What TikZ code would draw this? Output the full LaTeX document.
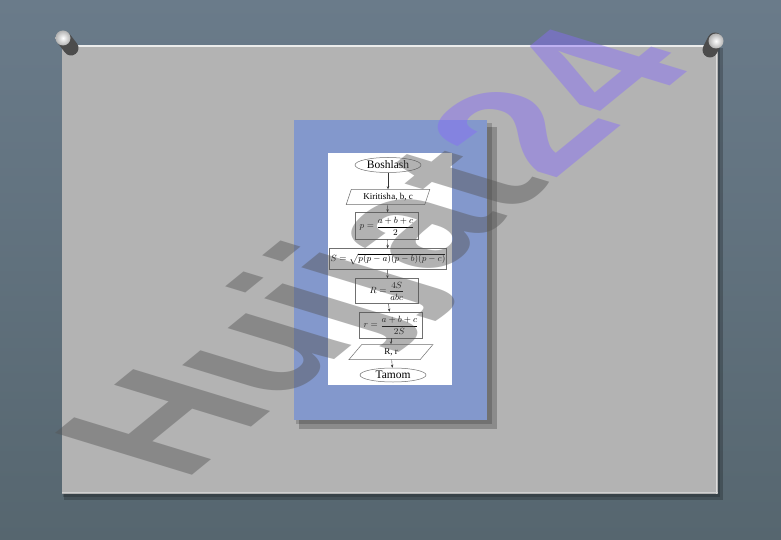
\documentclass[tikz,border=0pt]{standalone}
\usepackage{amsmath}
\usepackage{fontspec}
\setmainfont{Liberation Serif}
\newfontfamily\wmfont{Liberation Sans}
\usetikzlibrary{arrows.meta,shapes.geometric}
\definecolor{bgtop}{HTML}{6A7B8A}
\definecolor{bgbot}{HTML}{56666F}
\definecolor{panelc}{HTML}{B3B3B3}
\definecolor{bluec}{HTML}{8398CC}
\definecolor{linec}{HTML}{707070}
\definecolor{wmgray}{HTML}{555555}
\definecolor{wmpurple}{HTML}{866BFA}
\tikzset{
  fc/.style={draw=linec, line width=0.5pt, fill=white, font=\fontsize{9}{10}\selectfont, inner sep=1pt},
  term/.style={fc, ellipse, minimum width=#1, minimum height=15pt, font=\fontsize{11.5}{12}\selectfont},
  io/.style={fc, trapezium, trapezium left angle=70, trapezium right angle=110, minimum width=#1, minimum height=15pt, trapezium stretches=true},
  proc/.style={fc, rectangle, minimum width=#1, minimum height=24pt},
  arr/.style={draw=black!80, line width=0.4pt, -{Stealth[length=3pt,width=2.4pt]}},
  pinbody/.style={line width=15pt, line cap=round, draw=black!70},
}
\begin{document}
\begin{tikzpicture}[x=1pt,y=-1pt]
\useasboundingbox (0,0) rectangle (781,540);
\shade[top color=bgtop, bottom color=bgbot] (0,0) rectangle (781,540);
% panel with shadow
\fill[black,opacity=0.22] (64,48) rectangle (723,500);
\fill[black,opacity=0.18] (63,47) rectangle (720,497);
\fill[panelc] (62,45) rectangle (718,494);
\draw[white!75!panelc, line width=1.5pt] (62,46) -- (718,46);
\draw[white!55!panelc, line width=1pt] (716,45) -- (716,494);
\draw[white!40!panelc, line width=0.8pt] (62,492) -- (718,492);
% picture with shadow
\fill[black,opacity=0.22] (299,127) rectangle (497,429);
\fill[black,opacity=0.18] (296,123) rectangle (492,424);
\fill[bluec] (294,120) rectangle (487,420);
\fill[white] (328,153) rectangle (452,385);
% flowchart
\node[term=66pt] (start) at (388,165) {Boshlash};
\node[io=84pt] (inp) at (388,197) {Kiritish\hspace{0.5pt}a, b, c};
\node[proc=63pt, minimum height=27pt] (p) at (387,226) {$p=\dfrac{a+b+c}{2}$};
\node[proc=117pt, minimum height=21pt] (s) at (388,259) {$S=\sqrt{p(p-a)(p-b)(p-c)}$};
\node[proc=63pt, minimum height=25pt] (R) at (387,291) {$R=\dfrac{4S}{abc}$};
\node[proc=63pt, minimum height=26pt] (r) at (391,325) {$r=\dfrac{a+b+c}{2S}$};
\node[io=84pt] (out) at (391,352) {R, r};
\node[term=66pt, minimum height=14pt] (end) at (393,375) {Tamom};
\draw[arr] (start) -- (inp);
\draw[arr] (inp) -- (p);
\draw[arr] (p) -- (s);
\draw[arr] (s) -- (R);
\draw[arr] (R) -- (r);
\draw[arr] (r) -- (out);
\draw[arr] (out) -- (end);
% watermark
\begin{scope}[cm={1.33,1.085,-1.99,0.608,(183,483)}]
\node[transform shape, anchor=base west, inner sep=0pt, text opacity=0.45,
  font=\wmfont\bfseries\fontsize{100}{100}\selectfont] (wm) at (0,0)
  {\color{wmgray}Hujjat\color{wmpurple}24};
\end{scope}
% pins
\draw[pinbody] (64,39) -- (71,48);
\shade[inner color=white, outer color=black!30] (63,38) circle (7.5pt);
\draw[pinbody] (715,40) -- (710,50);
\shade[inner color=white, outer color=black!30] (716,41) circle (7.5pt);
\end{tikzpicture}
\end{document}
